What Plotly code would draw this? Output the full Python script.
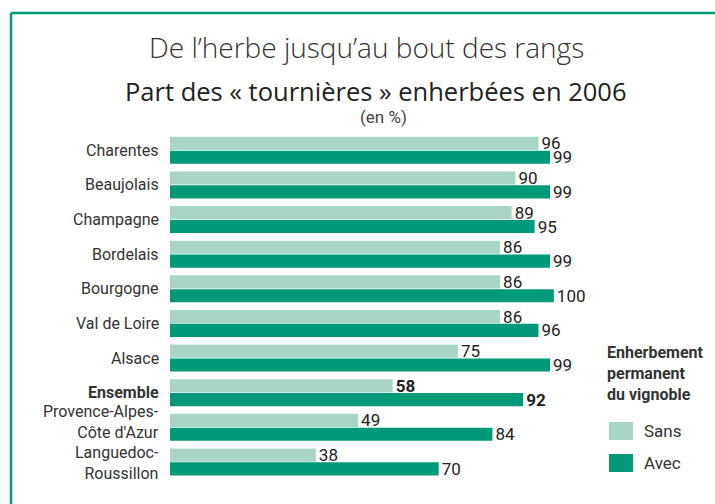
import plotly.graph_objects as go

categories = ["Charentes", "Beaujolais", "Champagne", "Bordelais", "Bourgogne",
              "Val de Loire", "Alsace", "Ensemble", "Provence-Alpes-Côte d'Azur",
              "Languedoc-Roussillon"]
tick_labels = ["Charentes", "Beaujolais", "Champagne", "Bordelais", "Bourgogne",
               "Val de Loire", "Alsace", "<b>Ensemble</b>", "Provence-Alpes-<br>Côte d'Azur",
               "Languedoc-<br>Roussillon"]
sans = [96, 90, 89, 86, 86, 86, 75, 58, 49, 38]
avec = [99, 99, 95, 99, 100, 96, 99, 92, 84, 70]
series_names = ["Sans", "Avec"]

LIGHT = "#A9D5C7"
DARK = "#009A78"
NARROW = "Roboto, Liberation Sans, sans-serif"
W, H = 715, 504
ML, MR, MT, MB = 170, 46, 133, 21
PW, PH = W - ML - MR, H - MT - MB
label_shift = {"Provence-Alpes-Côte d'Azur": 5, "Languedoc-Roussillon": -1}

def px(x):
    return (x - ML) / PW

def py(y):
    return (H - MB - y) / PH

def labels(vals):
    return [f"<b>{v}</b>" if c == "Ensemble" else str(v) for c, v in zip(categories, vals)]

fig = go.Figure()
for name, vals, col in [(series_names[0], sans, LIGHT), (series_names[1], avec, DARK)]:
    fig.add_trace(go.Bar(
        y=categories, x=vals, orientation="h", name=name,
        marker=dict(color=col, line=dict(width=0)),
        text=labels(vals), textposition="outside", constraintext="none",
        textfont=dict(family=NARROW, size=17, color="#222"),
        cliponaxis=False, showlegend=False, hoverinfo="skip",
    ))

fig.update_layout(
    width=W, height=H, margin=dict(l=ML, r=MR, t=MT, b=MB),
    paper_bgcolor="white", plot_bgcolor="white",
    barmode="group", bargap=0.2, bargroupgap=0.05,
    font=dict(family=NARROW, color="#333"),
    xaxis=dict(range=[0, 130], visible=False, fixedrange=True),
    yaxis=dict(categoryorder="array", categoryarray=categories, autorange="reversed",
               showticklabels=False, showline=False, showgrid=False, ticks="", fixedrange=True),
)

# Category labels
for cat, lab in zip(categories, tick_labels):
    fig.add_annotation(text=lab, xref="paper", yref="y", x=px(161), y=cat,
                       showarrow=False, xanchor="right", yanchor="middle", align="right",
                       yshift=label_shift.get(cat, 0),
                       font=dict(family=NARROW, size=16, color="#333"))

# Frame
fig.add_shape(type="line", xref="paper", yref="paper", x0=px(11), x1=px(720), y0=py(13), y1=py(13),
              line=dict(color=DARK, width=2.5))
fig.add_shape(type="line", xref="paper", yref="paper", x0=px(11), x1=px(11), y0=py(13), y1=py(510),
              line=dict(color=DARK, width=2.5))

# Titles
fig.add_annotation(text="De l\u2019herbe jusqu\u2019au bout des rangs", xref="paper", yref="paper",
                   x=px(366), y=py(47), showarrow=False, xanchor="center", yanchor="middle",
                   font=dict(family="Open Sans, sans-serif", size=28, color="#333", weight=300))
fig.add_annotation(text="Part des « tournières » enherbées en 2006", xref="paper", yref="paper",
                   x=px(376), y=py(91), showarrow=False, xanchor="center", yanchor="middle",
                   font=dict(family="Open Sans, sans-serif", size=25.5, color="#222", weight=500))
fig.add_annotation(text="(en %)", xref="paper", yref="paper",
                   x=px(383), y=py(117), showarrow=False, xanchor="center", yanchor="middle",
                   font=dict(family=NARROW, size=17, color="#444"))

# Manual legend
fig.add_annotation(text="<b>Enherbement<br>permanent<br>du vignoble</b>", xref="paper", yref="paper",
                   x=px(605), y=py(341), showarrow=False, xanchor="left", yanchor="top", align="left",
                   font=dict(family=NARROW, size=16, color="#333"))
for name, col, yc in [(series_names[0], LIGHT, 431), (series_names[1], DARK, 463)]:
    fig.add_shape(type="rect", xref="paper", yref="paper", x0=px(609), x1=px(633),
                  y0=py(yc - 9), y1=py(yc + 9), fillcolor=col, line=dict(width=0))
    fig.add_annotation(text=name, xref="paper", yref="paper", x=px(642), y=py(yc),
                       showarrow=False, xanchor="left", yanchor="middle",
                       font=dict(family=NARROW, size=17, color="#333"))

fig.write_html("out.html", config={"displayModeBar": False, "staticPlot": True},
               post_script="document.body.style.margin='0';document.body.style.overflow='hidden';")
